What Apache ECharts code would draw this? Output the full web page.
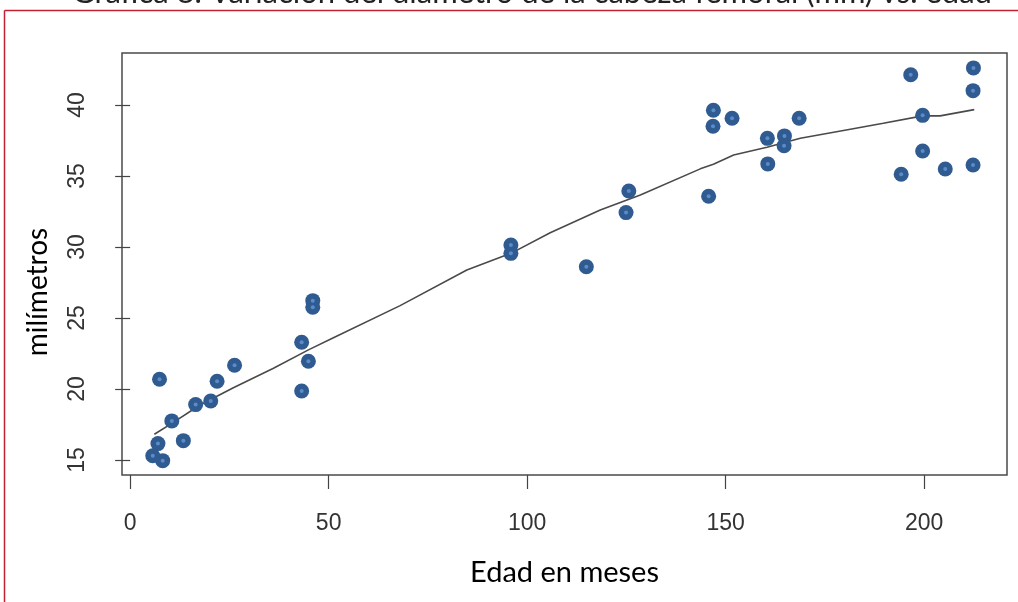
<!DOCTYPE html>
<html>
<head>
<meta charset="utf-8">
<script src="https://cdn.jsdelivr.net/npm/echarts@6/dist/echarts.min.js"></script>
<style>
html,body{margin:0;padding:0;background:#fff;}
#chart{width:1018px;height:602px;}
</style>
</head>
<body>
<div id="chart"></div>
<script>
// Edad en meses (x) and milímetros (y) for each observation
const edad = [7.4, 10.5, 16.5, 20.3, 21.9, 26.3, 7.0, 13.4, 5.7, 8.2, 43.2, 44.9, 43.2, 46.0, 46.0,
  95.9, 95.9, 114.9, 125.6, 124.9,
  145.7, 146.9, 146.8, 151.6, 160.5, 160.6, 164.8, 164.7, 168.5,
  196.6, 194.2, 199.6, 199.6, 205.3, 212.4, 212.3, 212.3];
const milimetros = [20.68, 17.75, 18.9, 19.15, 20.54, 21.67, 16.15, 16.36, 15.3, 14.95, 23.29, 21.95, 19.86, 26.22, 25.75,
  30.14, 29.55, 28.61, 33.94, 32.42,
  33.57, 39.63, 38.5, 39.06, 37.65, 35.85, 37.82, 37.13, 39.06,
  42.13, 35.12, 39.27, 36.76, 35.49, 42.61, 41.01, 35.77];
// smoothed (loess) curve
const curvaX = [6.1, 10.5, 17.6, 26, 36.1, 44.9, 51.2, 68, 84.8, 95.9, 105.8, 118.4, 128.5, 143.6, 146.9, 152, 160.4, 168.8, 181.4, 189.7, 199.6, 204, 212.6];
const curvaY = [16.81, 17.58, 18.87, 20.09, 21.46, 22.75, 23.61, 25.87, 28.38, 29.55, 31.0, 32.6, 33.66, 35.5, 35.82, 36.48, 37.02, 37.65, 38.29, 38.71, 39.23, 39.23, 39.67];
const xTicks = [0, 50, 100, 150, 200];
const yTicks = [15, 20, 25, 30, 35, 40];
const tituloX = 'Edad en meses';
const tituloY = 'milímetros';
const tituloGrafica = 'Gráfica 8. Variación del diámetro de la cabeza femoral (mm) vs. edad';

const puntos = edad.map((x, i) => [x, milimetros[i]]);
const curva = curvaX.map((x, i) => [x, curvaY[i]]);

const chart = echarts.init(document.getElementById('chart'), null, {renderer: 'canvas'});
chart.setOption({
  animation: false,
  backgroundColor: '#fff',
  grid: {left: 122, top: 53, right: 11, bottom: 127, show: true, borderColor: '#4a4a4a', borderWidth: 1.5, backgroundColor: 'transparent'},
  xAxis: {
    type: 'value', min: -2.05, max: 220.85,
    axisLine: {show: false},
    splitLine: {show: false},
    axisTick: {show: true, customValues: xTicks, length: 14, lineStyle: {color: '#444', width: 1.2}},
    axisLabel: {customValues: xTicks, margin: 37, fontFamily: 'Liberation Sans', fontSize: 23, color: '#333'},
    name: tituloX, nameLocation: 'middle', nameGap: 83,
    nameTextStyle: {fontFamily: 'Lato', fontSize: 29, color: '#000'}
  },
  yAxis: {
    type: 'value', min: 13.94, max: 43.66,
    axisLine: {show: false},
    splitLine: {show: false},
    axisTick: {show: true, customValues: yTicks, length: 15, lineStyle: {color: '#444', width: 1.2}},
    axisLabel: {customValues: yTicks, margin: 33, rotate: 90, fontFamily: 'Liberation Sans', fontSize: 23, color: '#333'}
  },
  graphic: [
    {type: 'text', left: 72, top: -23, style: {text: tituloGrafica, font: '31px Lato', fill: '#222'}, silent: true},
    {type: 'text', x: 38, y: 292, rotation: Math.PI / 2,
      style: {text: tituloY, font: '28px Lato', fill: '#000', align: 'center', verticalAlign: 'middle'}, silent: true},
    {type: 'line', shape: {x1: 4.5, y1: 10.5, x2: 1018, y2: 10.5}, style: {stroke: '#c42030', lineWidth: 1.5}, silent: true},
    {type: 'line', shape: {x1: 4.5, y1: 10.5, x2: 4.5, y2: 602}, style: {stroke: '#c42030', lineWidth: 1.5}, silent: true}
  ],
  series: [
    {type: 'line', data: curva, showSymbol: false, symbol: 'none', lineStyle: {color: '#4a4a4a', width: 1.6}, z: 2},
    {type: 'scatter', data: puntos, symbol: 'circle', symbolSize: 15, itemStyle: {color: '#2f5b91', opacity: 1}, z: 3},
    {type: 'scatter', data: puntos, symbol: 'circle', symbolSize: 4, itemStyle: {color: '#5a8bcb', opacity: 1}, z: 4}
  ]
});
</script>
</body>
</html>
